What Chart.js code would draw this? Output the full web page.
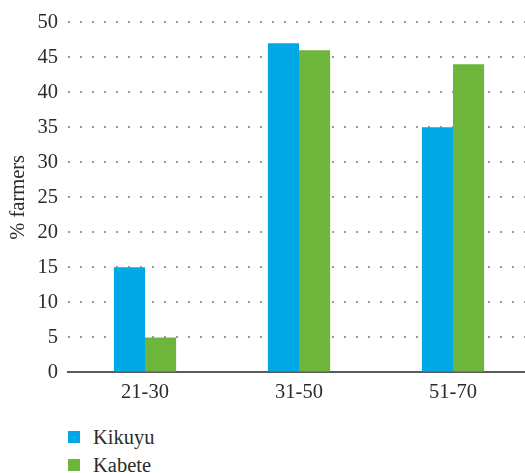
<!DOCTYPE html>
<html>
<head>
<meta charset="utf-8">
<script src="https://cdn.jsdelivr.net/npm/chart.js@4"></script>
<style>
    html, body { margin: 0; padding: 0; background: #fff; overflow: hidden; }
    #wrap { position: relative; width: 530px; height: 473px; }
    #chartBox { position: absolute; left: 0; top: 0; width: 530px; height: 413px; }
    #legend { position: absolute; left: 68px; top: 423px; font-family: 'Liberation Serif', 'Times New Roman', Times, serif; font-size: 20.5px; color: #2b2b2b; }
    .legend-item { display: flex; align-items: center; height: 28px; }
    .legend-box { width: 12px; height: 12px; margin-right: 13px; }
</style>
</head>
<body>
<div id="wrap">
    <div id="chartBox"><canvas id="ageChart"></canvas></div>
    <div id="legend"></div>
</div>
<script>
const categories = ['21-30', '31-50', '51-70'];
const kikuyu = [15, 47, 35];
const kabete = [5, 46, 44];
const yTicks = [0, 5, 10, 15, 20, 25, 30, 35, 40, 45, 50];

const COLORS = {
    kikuyu: '#00a9e6',
    kabete: '#6db63b',
    text: '#2b2b2b',
};

const serif = "'Liberation Serif', 'Times New Roman', Times, serif";

const datasets = [
    { label: 'Kikuyu', data: kikuyu, backgroundColor: COLORS.kikuyu },
    { label: 'Kabete', data: kabete, backgroundColor: COLORS.kabete },
];

// legend as plain html, stacked vertically like the original
const legendEl = document.getElementById('legend');
datasets.forEach(ds => {
    const item = document.createElement('div');
    item.className = 'legend-item';
    item.innerHTML = `<span class="legend-box" style="background:${ds.backgroundColor}"></span><span>${ds.label}</span>`;
    legendEl.appendChild(item);
});

const ctx = document.getElementById('ageChart').getContext('2d');
new Chart(ctx, {
    type: 'bar',
    data: {
        labels: categories,
        datasets: datasets.map(ds => ({
            ...ds,
            borderWidth: 0,
            categoryPercentage: 0.404,
            barPercentage: 1,
        })),
    },
    options: {
        responsive: true,
        maintainAspectRatio: false,
        animation: false,
        layout: {
            padding: { top: 11, left: 0, right: 0, bottom: 0 },
        },
        plugins: {
            legend: { display: false },
            tooltip: { enabled: false },
        },
        scales: {
            x: {
                z: 1,
                grid: { display: false, drawTicks: false },
                border: { display: true, color: '#5a5a5a', width: 2 },
                ticks: {
                    color: COLORS.text,
                    font: { family: serif, size: 20.5 },
                    padding: 8,
                },
            },
            y: {
                min: 0,
                max: 50,
                afterBuildTicks: axis => {
                    axis.ticks = yTicks.map(v => ({ value: v }));
                },
                afterFit: axis => {
                    axis.width = 68;
                },
                grid: {
                    color: '#9a9a9a',
                    lineWidth: 2,
                    drawTicks: false,
                },
                border: { display: false, dash: [2, 10] },
                ticks: {
                    color: COLORS.text,
                    font: { family: serif, size: 20.5 },
                    padding: 10,
                },
                title: {
                    display: true,
                    text: '% farmers',
                    color: COLORS.text,
                    font: { family: serif, size: 20.5 },
                    padding: { top: 6, bottom: 0 },
                },
            },
        },
    },
});
</script>
</body>
</html>
